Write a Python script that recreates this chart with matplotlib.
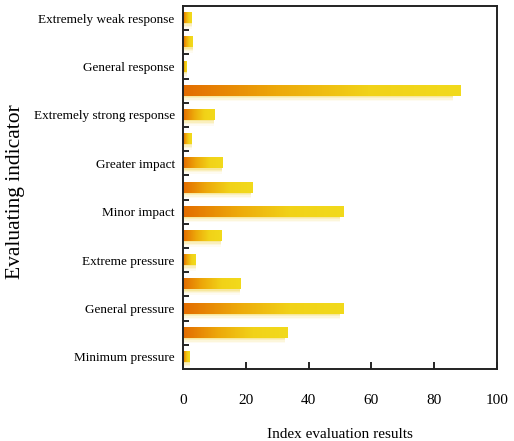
import numpy as np
import matplotlib.pyplot as plt
from matplotlib.colors import LinearSegmentedColormap
from matplotlib.patches import Rectangle

# bars listed from bottom to top
labels = ["Minimum pressure", "", "General pressure", "", "Extreme pressure", "",
          "Minor impact", "", "Greater impact", "", "Extremely strong response", "",
          "General response", "", "Extremely weak response"]
values = [2.0, 33.2, 51.2, 18.3, 4.0, 12.2, 51.2, 22.0, 12.6, 2.7, 10.0, 88.5, 1.1, 3.1, 2.7]

plt.rcParams['font.family'] = ['Liberation Serif', 'DejaVu Serif']

grad = LinearSegmentedColormap.from_list('bar', ['#e36c00', '#eda80a', '#f1d218', '#f2da1c'])
ramp = np.linspace(0, 1, 256).reshape(1, -1)

fig = plt.figure(figsize=(5.14, 4.41), dpi=100)
ax = fig.add_axes([183/514, 1 - 369/441, (497 - 183)/514, (369 - 6)/441])

h = 0.42
for i, v in enumerate(values):
    # soft shadow under the bar
    for k, a in enumerate([0.45, 0.3, 0.18, 0.1]):
        ax.add_patch(Rectangle((0.3, i - h/2 - 0.05 - 0.06*k), v*0.97, h,
                               facecolor='#f7e07a', edgecolor='none', alpha=a, zorder=1))
    ax.imshow(ramp, cmap=grad, aspect='auto', extent=[0, v, i - h/2, i + h/2],
              zorder=2, interpolation='bilinear')

ax.set_xlim(0, 100)
ax.set_ylim(-0.5, len(values) - 0.5)
ax.set_xticks([0, 20, 40, 60, 80, 100])
ax.set_yticks(range(len(values)))
ax.set_yticklabels(labels, fontsize=9.5)
ax.set_yticks(np.arange(0.5, len(values) - 1, 1), minor=True)
ax.tick_params(axis='y', which='major', length=0, pad=6)
ax.tick_params(axis='y', which='minor', direction='in', length=4, width=1.2)
ax.tick_params(axis='x', direction='in', length=5, width=1.2, labelsize=11, pad=18)
for s in ax.spines.values():
    s.set_linewidth(1.4)
    s.set_color('#222222')

ax.set_xlabel("Index evaluation results", fontsize=11, labelpad=15)
fig.text(16/514, 1 - 192/441, "Evaluating indicator", rotation=90, fontsize=15.5,
         ha='center', va='center')

fig.savefig('out.png', dpi=100)
